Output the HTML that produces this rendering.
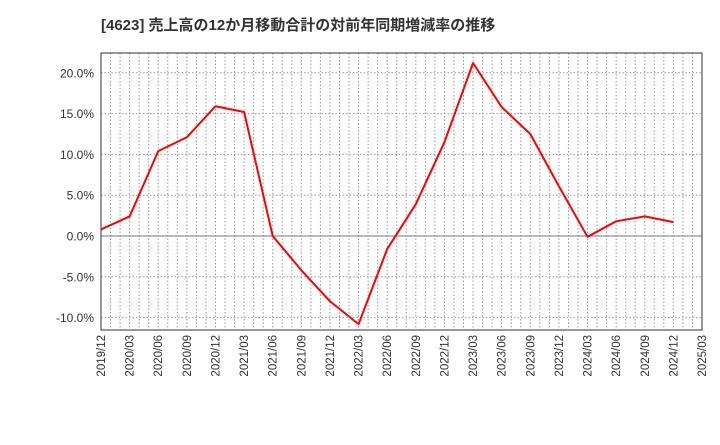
<!DOCTYPE html>
<html><head><meta charset="utf-8"><style>body{margin:0;background:#fff}svg{font-family:"Liberation Sans","Noto Sans CJK JP",sans-serif}</style></head>
<body>
<svg id="c" width="720" height="440" xmlns="http://www.w3.org/2000/svg">
<text x="101" y="30" font-size="15" font-weight="bold" fill="#333">[4623]  売上高の12か月移動合計の対前年同期増減率の推移</text>
<g id="g"></g>
</svg>
<script>
const categories=["2019/12","2020/03","2020/06","2020/09","2020/12","2021/03","2021/06","2021/09","2021/12","2022/03","2022/06","2022/09","2022/12","2023/03","2023/06","2023/09","2023/12","2024/03","2024/06","2024/09","2024/12","2025/03"];
const values=[0.8,2.4,10.4,12.1,15.9,15.2,0.0,-4.2,-8.0,-10.8,-1.6,3.9,11.5,21.2,15.8,12.5,6.1,-0.1,1.8,2.4,1.7];
const yTicks=[20,15,10,5,0,-5,-10];
const L=101,R=702,T=53,B=330;
const xs=i=>L+(R-L)*i/(categories.length-1);
const ys=v=>236-v*8.16;
const g=document.getElementById('g');const NS='http://www.w3.org/2000/svg';
function mk(t,a){const e=document.createElementNS(NS,t);for(const k in a)e.setAttribute(k,a[k]);g.appendChild(e);return e;}
for(let m=1;m<(categories.length-1)*3;m++){const x=L+(R-L)*m/((categories.length-1)*3);
const l=mk('line',{x1:x,x2:x,y1:T,y2:B,stroke:'#999','stroke-dasharray':'1.5,2','stroke-width':1});

}
yTicks.forEach(v=>{const y=ys(v);
const l=mk('line',{x1:L,x2:R,y1:y,y2:y,stroke:v===0?'#777':'#999','stroke-dasharray':v===0?'none':'1.5,2','stroke-width':1});


const t=mk('text',{x:L-7,y:y+4.5,'text-anchor':'end','font-size':12,fill:'#333'});t.textContent=v.toFixed(1)+'%';

});
categories.forEach((c,i)=>{const x=xs(i);const t=mk('text',{x:0,y:0,transform:`translate(${x+4},${B+5}) rotate(-90)`,'text-anchor':'end','font-size':11.5,fill:'#333'});t.textContent=c;

});
const f=mk('rect',{x:L,y:T,width:R-L,height:B-T,fill:'none',stroke:'#333','stroke-width':1});


const p=mk('polyline',{points:values.map((v,i)=>xs(i)+','+ys(v)).join(' '),fill:'none',stroke:'#f00','stroke-width':2,'stroke-linejoin':'round'});


</script>
</body></html>
